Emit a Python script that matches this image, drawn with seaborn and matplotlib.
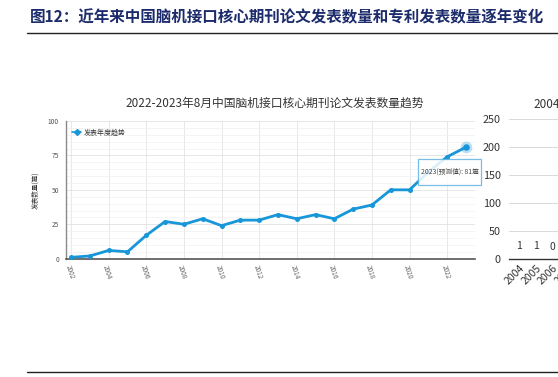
import matplotlib
matplotlib.use("Agg")
import matplotlib.pyplot as plt
from matplotlib.lines import Line2D
from matplotlib.patches import Rectangle
import seaborn as sns
import numpy as np

# ---- data ----
years = list(range(2002, 2024))
papers = [1, 2, 6, 5, 17, 27, 25, 29, 24, 28, 28, 32, 29, 32, 29, 36, 39, 50, 50, 63, 74, 81]
xtick_years = list(range(2002, 2023, 2))
ytick_vals = [0, 25, 50, 75, 100]

patent_years = ["2004", "2005", "2006"]
patent_vals = [1, 1, 0]
patent_tick_labels = ["2004", "2005", "2006", "2007"]
patent_yticks = [0, 50, 100, 150, 200, 250]

fig_title = "图12：近年来中国脑机接口核心期刊论文发表数量和专利发表数量逐年变化"
left_title = "2022-2023年8月中国脑机接口核心期刊论文发表数量趋势"
right_title = "2004"
legend_label = "发表年度趋势"
ylabel = "发表数量(篇)"
tooltip = "2023(预测值): 81篇"

sns.set_style("white")
plt.rcParams['font.family'] = ['Noto Sans CJK SC', 'DejaVu Sans']

W, H = 558, 377
fig = plt.figure(figsize=(W / 100, H / 100), dpi=100)

def fx(px):
    return px / W

def fy(py):
    return 1 - py / H

blue = "#1796d9"

# ---- left chart ----
ax = fig.add_axes([fx(66), fy(258.7), fx(475 - 66), (258.7 - 121) / H])
sns.lineplot(x=years, y=papers, ax=ax, color=blue, linewidth=2.0,
             marker="o", markersize=3.6, markeredgewidth=0, zorder=3)
# highlighted last point
ax.scatter([years[-1]], [papers[-1]], s=70, color=blue, alpha=0.3, zorder=4, linewidths=0)
ax.scatter([years[-1]], [papers[-1]], s=22, color=blue, zorder=5, linewidths=0)

ax.set_xlim(2001.73, 2023.48)
ax.set_ylim(0, 100)
ax.set_xticks(xtick_years)
ax.set_xticklabels([str(y) for y in xtick_years], rotation=-72, ha="left", va="top",
                   rotation_mode="anchor", fontsize=4.6, color="#666666")
ax.set_yticks(ytick_vals)
ax.set_yticklabels([str(v) for v in ytick_vals], fontsize=4.8, color="#555555")
ax.set_yticks(np.arange(0, 101, 5), minor=True)
ax.tick_params(axis="y", which="major", length=3, width=0.8, color="#666666", pad=2)
ax.tick_params(axis="y", which="minor", length=0)
ax.tick_params(axis="x", which="major", length=2, width=0.6, color="#666666", pad=2)
ax.grid(axis="x", which="major", color="#e4e4e4", linewidth=0.6)
ax.grid(axis="y", which="major", color="#e2e2e2", linewidth=0.6)
ax.grid(axis="y", which="minor", color="#f0f0f0", linewidth=0.5)
ax.set_axisbelow(True)
for s in ["top", "right"]:
    ax.spines[s].set_visible(False)
ax.spines["left"].set_color("#8a8a8a")
ax.spines["left"].set_linewidth(1.0)
ax.spines["bottom"].set_color("#555555")
ax.spines["bottom"].set_linewidth(1.2)
ax.set_xlabel("")
ax.set_ylabel(ylabel, fontsize=4.8, color="#333333", labelpad=6)

handle = Line2D([], [], color=blue, linewidth=1.2, marker="D", markersize=3)
leg = ax.legend([handle], [legend_label], loc="upper left", bbox_to_anchor=(0.0, 0.99),
                frameon=False, fontsize=5, handlelength=1.3, handletextpad=0.3)
for t in leg.get_texts():
    t.set_color("#333333")

# tooltip
rect = Rectangle((fx(418), fy(185)), fx(481 - 418), (185 - 159) / H,
                 transform=fig.transFigure, facecolor="white", edgecolor="#5fb3e3",
                 linewidth=0.9, alpha=0.85, zorder=10)
fig.add_artist(rect)
fig.text(fx(449.5), fy(172), tooltip, ha="center", va="center", fontsize=4.9,
         color="#444444", zorder=11)

fig.text(fx(275), fy(103), left_title, ha="center", va="center", fontsize=8.5, color="#333333")

# ---- right chart (cut off) ----
ax2 = fig.add_axes([fx(509), fy(259), fx(336), (259 - 119.3) / H])
sns.barplot(x=patent_years, y=patent_vals, ax=ax2, color="#4e8fd0", width=0.6)
ax2.set_xlim(-0.6, 19.4)
ax2.set_ylim(0, 250)
ax2.set_xticks(range(len(patent_tick_labels)))
ax2.set_xticklabels(patent_tick_labels, rotation=45, ha="right", va="top",
                    rotation_mode="anchor", fontsize=7.5, color="#333333")
ax2.set_yticks(patent_yticks)
ax2.set_yticklabels([str(v) for v in patent_yticks], fontsize=7.8, color="#333333")
ax2.tick_params(axis="y", length=0, pad=6)
ax2.tick_params(axis="x", length=0, pad=3)
ax2.grid(axis="y", color="#d9d9d9", linewidth=0.7)
ax2.set_axisbelow(True)
for s in ["top", "right", "left"]:
    ax2.spines[s].set_visible(False)
ax2.spines["bottom"].set_color("#333333")
ax2.spines["bottom"].set_linewidth(1.0)
ax2.set_xlabel("")
ax2.set_ylabel("")
for c in ax2.containers:
    ax2.bar_label(c, labels=[str(v) for v in patent_vals], padding=5, fontsize=7.5, color="#333333")

fig.text(fx(533), fy(105), right_title, ha="left", va="center", fontsize=8.5,
         color="#333333", fontweight="medium")

# ---- figure title and rules ----
fig.text(fx(30), fy(17), fig_title, ha="left", va="center", fontsize=11.2,
         fontweight="bold", color="#1c2b6b")
fig.add_artist(Line2D([fx(27), 1], [fy(32.5), fy(32.5)], color="#222222", linewidth=1.0,
                      transform=fig.transFigure))
fig.add_artist(Line2D([fx(27), 1], [fy(371.5), fy(371.5)], color="#222222", linewidth=1.0,
                      transform=fig.transFigure))

fig.savefig("out.png", dpi=100)
